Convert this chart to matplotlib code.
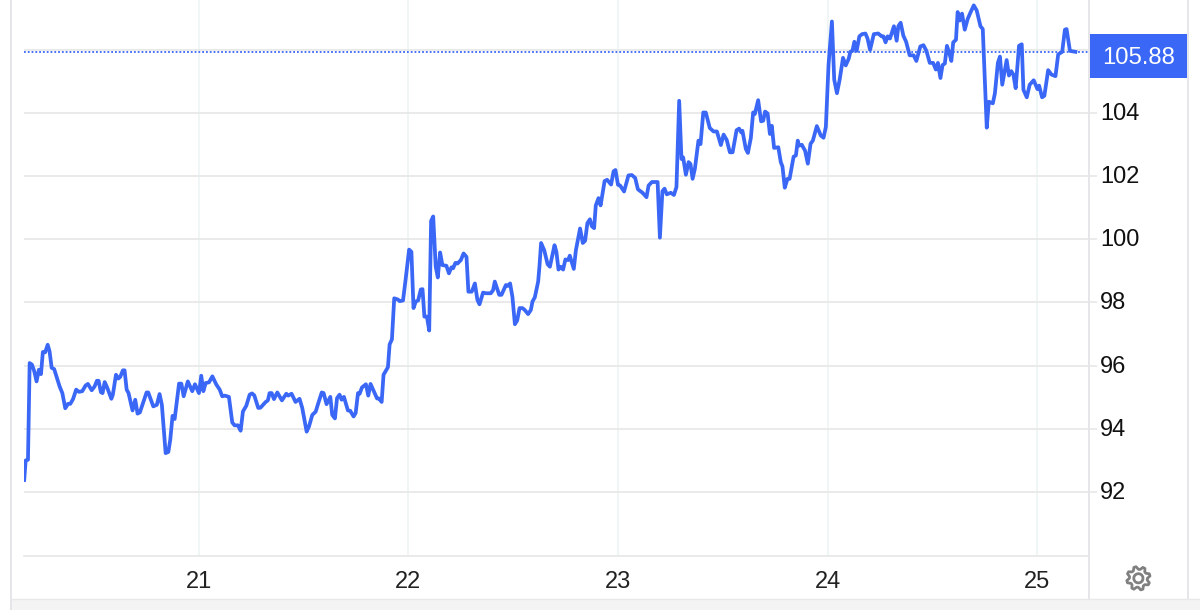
import numpy as np
import matplotlib
matplotlib.use("Agg")
import matplotlib.pyplot as plt
from matplotlib.lines import Line2D
from matplotlib.patches import Rectangle, PathPatch
from matplotlib.path import Path
from matplotlib.transforms import ScaledTranslation

W, H = 1200, 610
years = [
20.166,20.173,20.184,20.192,20.203,20.214,20.225,20.236,20.246,20.255,20.266,20.278,20.287,20.297,20.309,20.322,20.335,20.348,20.362,20.375,
20.386,20.399,20.414,20.427,20.443,20.459,20.470,20.488,20.502,20.513,20.521,20.532,20.540,20.550,20.561,20.582,20.589,20.604,20.615,20.624,
20.637,20.645,20.655,20.664,20.683,20.696,20.707,20.718,20.750,20.758,20.782,20.799,20.812,20.823,20.841,20.854,20.863,20.874,20.884,20.905,
20.916,20.927,20.947,20.968,20.981,21.000,21.011,21.021,21.032,21.048,21.064,21.083,21.099,21.111,21.124,21.143,21.159,21.170,21.186,21.199,
21.210,21.226,21.242,21.253,21.264,21.283,21.294,21.317,21.329,21.337,21.347,21.358,21.374,21.396,21.417,21.426,21.442,21.461,21.480,21.493,
21.514,21.525,21.541,21.557,21.570,21.586,21.595,21.609,21.627,21.636,21.649,21.659,21.671,21.681,21.692,21.711,21.722,21.738,21.748,21.759,
21.767,21.778,21.797,21.808,21.819,21.831,21.850,21.859,21.872,21.881,21.902,21.910,21.921,21.932,21.950,21.958,21.974,
21.987,22.003,22.014,22.024,22.035,22.046,22.059,22.067,22.076,22.088,22.099,22.108,22.118,22.130,22.140,22.151,22.162,22.181,22.193,22.205,
22.213,22.224,22.234,22.250,22.263,22.277,22.286,22.302,22.317,22.329,22.339,22.356,22.369,22.393,22.404,22.412,22.433,22.444,22.465,22.474,
22.485,22.496,22.508,22.519,22.530,22.544,22.555,22.571,22.584,22.592,22.603,22.619,22.625,22.633,22.648,22.664,22.675,22.697,22.706,22.716,
22.726,22.738,22.749,22.762,22.770,22.789,22.799,22.819,22.832,22.843,22.854,22.866,22.875,22.886,22.894,22.907,22.917,22.936,22.948,22.967,
22.979,22.988,23.000,23.010,23.029,23.050,23.066,23.082,23.095,23.117,23.136,23.146,23.162,23.189,23.200,23.212,23.222,23.233,23.252,23.267,
23.279,23.292,23.303,23.311,23.324,23.337,23.346,23.356,23.367,23.384,23.394,23.407,23.419,23.438,23.456,23.472,23.491,23.504,23.519,23.534,
23.547,23.566,23.578,23.588,23.594,23.610,23.620,23.634,23.645,23.653,23.669,23.683,23.693,23.702,23.714,23.725,23.734,23.745,23.765,23.777,
23.785,23.796,23.809,23.819,23.838,23.849,23.858,
23.864,23.877,23.893,23.906,23.919,23.930,23.949,23.968,23.981,23.992,24.005,24.021,24.032,24.045,24.058,24.074,24.087,24.101,24.109,24.119,
24.128,24.139,24.152,24.165,24.181,24.191,24.203,24.221,24.242,24.258,24.267,24.277,24.287,24.298,24.317,24.330,24.338,24.349,24.362,24.375,
24.392,24.411,24.424,24.443,24.458,24.472,24.488,24.504,24.517,24.527,24.539,24.549,24.560,24.570,24.581,24.591,24.600,24.613,24.621,24.631,
24.642,24.655,24.669,24.680,24.698,24.712,24.730,24.741,24.760,24.770,24.789,24.799,24.813,24.823,24.834,24.855,24.866,24.877,24.887,24.898,
24.914,24.927,24.935,24.951,24.965,24.984,25.002,25.010,25.024,25.035,25.053,25.069,25.088,25.101,25.120,25.133,25.141,25.157,25.183]
prices = [
92.38,93.0,93.02,96.08,96.03,95.82,95.5,95.87,95.73,96.43,96.42,96.66,96.45,95.93,95.89,95.61,95.34,95.13,94.65,94.79,
94.79,94.94,95.24,95.17,95.19,95.37,95.42,95.22,95.34,95.52,95.52,95.16,95.13,95.48,95.32,94.95,95.08,95.71,95.59,95.64,
95.85,95.85,95.24,95.13,94.58,94.92,94.48,94.52,95.15,95.15,94.71,94.76,95.1,94.76,93.23,93.27,93.65,94.41,94.31,95.43,
95.43,95.03,95.5,95.19,95.41,95.13,95.68,95.19,95.45,95.47,95.66,95.4,95.24,95.03,95.05,95.01,94.2,94.11,94.11,93.94,
94.55,94.73,95.08,95.12,95.06,94.66,94.67,94.84,94.9,95.13,95.13,94.94,95.15,94.9,95.11,95.05,95.11,94.85,94.95,94.66,
93.91,94.07,94.44,94.54,94.82,95.15,95.13,94.78,95.01,94.44,94.33,94.97,95.08,94.92,95.01,94.58,94.57,94.39,94.5,95.13,
95.11,95.31,95.41,95.05,95.42,95.24,94.96,94.96,94.85,95.71,95.95,96.67,96.83,98.13,98.09,98.04,98.06,
98.76,99.67,99.6,97.82,98.03,98.06,98.41,98.42,97.55,97.55,97.11,100.58,100.72,99.13,98.79,99.58,99.18,99.16,98.92,99.11,
99.08,99.25,99.23,99.34,99.55,99.44,98.34,98.34,98.6,98.08,97.94,98.31,98.29,98.29,98.39,98.66,98.24,98.24,98.55,98.52,
98.6,98.18,97.31,97.43,97.82,97.82,97.76,97.63,97.76,98.03,98.16,98.66,99.13,99.88,99.65,99.21,99.13,99.81,99.6,99.04,
99.13,99.04,99.36,99.34,99.48,99.06,99.65,100.34,99.88,99.95,100.51,100.63,100.41,100.35,101.07,101.3,101.07,101.84,101.88,101.73,
102.15,102.19,101.72,101.7,101.51,102.02,102.03,101.94,101.58,101.47,101.33,101.7,101.81,101.81,100.05,101.52,101.6,101.42,101.47,101.4,
101.65,104.38,102.54,102.59,102.04,102.44,102.38,101.91,102.23,103.12,103.01,104.01,104.01,103.52,103.41,103.41,102.98,103.31,103.14,102.75,
102.75,103.45,103.5,103.38,103.43,102.86,102.73,103.2,104.01,103.96,104.4,103.73,103.75,104.04,103.98,103.33,103.59,102.89,102.91,102.44,
102.3,101.63,101.91,101.91,102.61,102.65,103.12,
102.96,102.99,102.8,102.39,103.02,103.12,103.58,103.28,103.21,103.55,105.53,106.89,105.05,104.62,105.05,105.74,105.5,105.71,105.93,105.96,
106.25,105.96,106.42,106.49,106.51,106.35,105.99,106.49,106.51,106.42,106.42,106.23,106.42,106.35,106.74,106.28,106.74,106.85,106.44,106.25,
105.82,105.82,105.64,106.1,106.14,105.96,105.58,105.58,105.37,105.58,105.1,105.51,105.56,106.12,105.9,105.64,106.23,106.31,107.19,106.92,
107.14,106.63,106.97,107.14,107.4,107.24,106.74,106.65,103.53,104.35,104.3,104.62,105.58,105.78,104.89,105.67,105.18,105.32,105.21,104.78,
106.12,106.17,104.73,104.49,104.89,105.03,104.75,104.86,104.49,104.54,105.35,105.21,105.16,105.85,105.93,106.63,106.65,105.96,105.93]
x_ticks = [21, 22, 23, 24, 25]
x_labels = ["21", "22", "23", "24", "25"]
y_ticks = [92, 94, 96, 98, 100, 102, 104, 106]
y_labels = ["92", "94", "96", "98", "100", "102", "104", ""]
last_label = "105.88"
last_level = 105.93
BLUE = "#3a67f6"
GREY = "#e6e6ea"
plt.rcParams["font.family"] = ["Liberation Sans", "DejaVu Sans"]

fig = plt.figure(figsize=(W / 100, H / 100), dpi=100, facecolor="white")
L, R, T, B = 24, 1089, 0, 556
ax = fig.add_axes([L / W, 1 - B / H, (R - L) / W, (B - T) / H])
ax.set_xlim(20.165, 25.248)
ax.set_ylim(89.975, 107.57)
ax.plot(years, prices, color=BLUE, lw=2.7, solid_joinstyle="round", zorder=3)
ax.axhline(last_level, color=BLUE, lw=1.3, ls=(0, (1, 1.1)), dash_capstyle="butt", zorder=2)
ax.set_xticks(x_ticks, x_labels)
ax.set_yticks(y_ticks, y_labels)
ax.yaxis.tick_right()
ax.grid(axis="x", color="#eef3f3", lw=1.2)
ax.grid(axis="y", color="#e8e8e8", lw=1.3)
ax.set_axisbelow(True)
for s in ("top", "left", "right"):
    ax.spines[s].set_visible(False)
ax.spines["bottom"].set_color("#e8e8e8")
ax.spines["bottom"].set_linewidth(1.3)
ax.tick_params(axis="x", length=0, pad=11, labelsize=17, labelcolor="#222222")
ax.tick_params(axis="y", length=5.8, width=1.2, color="#e8e8e8", pad=2, labelsize=17, labelcolor="#111111")
shift = ScaledTranslation(0, 1.5 / 100, fig.dpi_scale_trans)
for lab in ax.get_yticklabels():
    lab.set_transform(lab.get_transform() + shift)


def fx(px):
    return px / W


def fy(py):
    return 1 - py / H


fig.add_artist(Line2D([fx(11), fx(11)], [0, 1], color=GREY, lw=1.4))
fig.add_artist(Line2D([fx(1089), fx(1089)], [fy(0), fy(556)], color=GREY, lw=1.4))
fig.add_artist(Line2D([fx(1089), fx(1089)], [fy(558), fy(598)], color=GREY, lw=1.4))
fig.add_artist(Line2D([fx(1188), fx(1188)], [fy(0), fy(598)], color=GREY, lw=1.4))
fig.add_artist(Rectangle((fx(11.7), 0), 1, 11 / H, transform=fig.transFigure, color="#f4f4f5", lw=0))
fig.add_artist(Line2D([fx(11.7), 1], [fy(599), fy(599)], color="#e8e8e8", lw=1.0))
fig.add_artist(Rectangle((fx(1089.5), fy(77.5)), 97.5 / W, 43.2 / H, transform=fig.transFigure, color=BLUE, lw=0, zorder=5))
fig.text(fx(1138.8), fy(57.5), last_label, color="white", fontsize=17.2, ha="center", va="center", zorder=6)

# settings gear icon
cx, cy, n = 1138.4, 578.3, 8
ang = np.linspace(0, 2 * np.pi, n * 4, endpoint=False) + np.pi / 8 - np.pi / n * 0.5
rad = np.tile([11.8, 11.8, 9.0, 9.0], n)
gear = np.column_stack([cx + rad * np.cos(ang), H - cy + rad * np.sin(ang)])
circ = np.linspace(0, 2 * np.pi, 40)
hole = np.column_stack([cx + 4.6 * np.cos(circ), H - cy + 4.6 * np.sin(circ)])
verts = np.vstack([gear, gear[:1], hole])
codes = [Path.MOVETO] + [Path.LINETO] * (len(gear) - 1) + [Path.CLOSEPOLY] + [Path.MOVETO] + [Path.LINETO] * (len(hole) - 1)
fig.add_artist(PathPatch(Path(verts, codes), transform=None, fc="none", ec="#808080", lw=2.0, joinstyle="round", zorder=6))
fig.savefig("out.png", dpi=100)
